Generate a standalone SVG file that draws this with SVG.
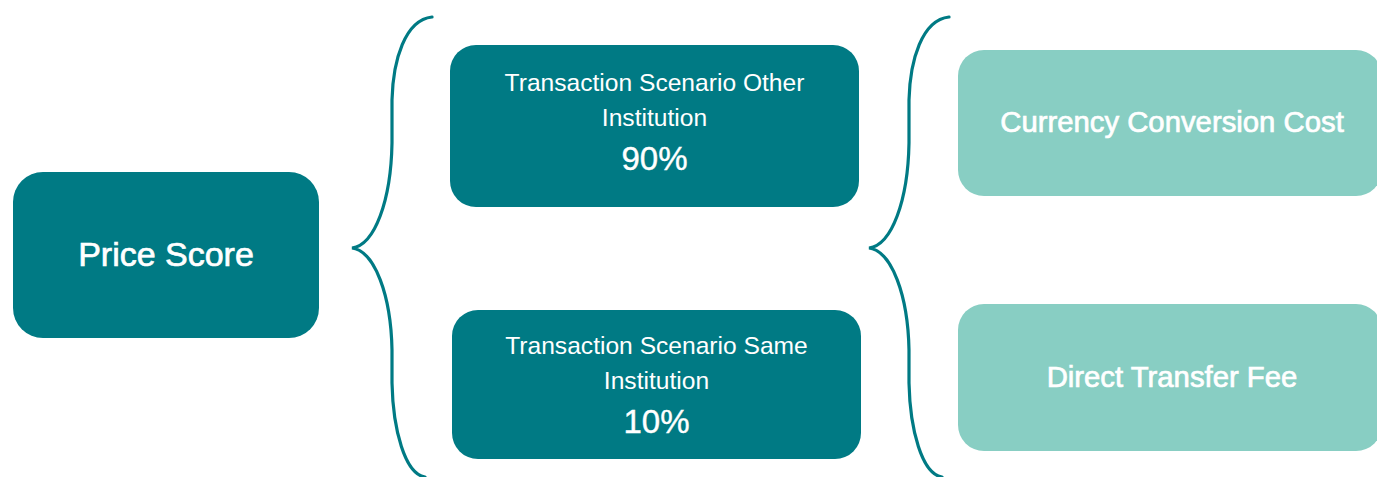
<svg xmlns="http://www.w3.org/2000/svg" width="1377" height="477" viewBox="0 0 1377 477">
<style>
.dark{fill:#007A84}
.light{fill:#88CEC3}
.brace{fill:none;stroke:#007A84;stroke-width:3.2;stroke-linecap:round}
text{font-family:"Liberation Sans",Arial,sans-serif;fill:#FFFFFF;text-anchor:middle}
.big{font-size:34px;stroke:#FFFFFF;stroke-width:0.7}
.mid{font-size:29.3px;stroke:#FFFFFF;stroke-width:0.7}
.sm{font-size:24.6px}
.pct{font-size:33px;stroke:#FFFFFF;stroke-width:0.4}
</style>
<rect width="1377" height="477" fill="#FFFFFF"/>
<g id="connectors">
<path class="brace" d="M432,17 C405,20 393,60 392,100 L392,143 C391,200 375,245 352,248 C375,251 391,296 392,350 L392,383 C393,430 405,474 425,477"/>
<path class="brace" transform="translate(517,0)" d="M432,17 C405,20 393,60 392,100 L392,143 C391,200 375,245 352,248 C375,251 391,296 392,350 L392,383 C393,430 405,474 425,477"/>
</g>
<g id="price-score">
<rect class="dark" x="13" y="172" width="306" height="166" rx="30"/>
<text class="big" x="166" y="266">Price Score</text>
</g>
<g id="scenario-other">
<rect class="dark" x="450" y="45" width="409" height="162" rx="26"/>
<text class="sm" x="654.5" y="91">Transaction Scenario Other</text>
<text class="sm" x="654.5" y="126">Institution</text>
<text class="pct" x="654.5" y="170">90%</text>
</g>
<g id="scenario-same">
<rect class="dark" x="452" y="310" width="409" height="149" rx="26"/>
<text class="sm" x="656.5" y="354">Transaction Scenario Same</text>
<text class="sm" x="656.5" y="389">Institution</text>
<text class="pct" x="656.5" y="433">10%</text>
</g>
<g id="currency-conversion">
<rect class="light" x="958" y="50" width="424" height="146" rx="26"/>
<text class="mid" x="1172" y="132">Currency Conversion Cost</text>
</g>
<g id="direct-transfer">
<rect class="light" x="958" y="304" width="424" height="147" rx="26"/>
<text class="mid" x="1172" y="387">Direct Transfer Fee</text>
</g>
</svg>
